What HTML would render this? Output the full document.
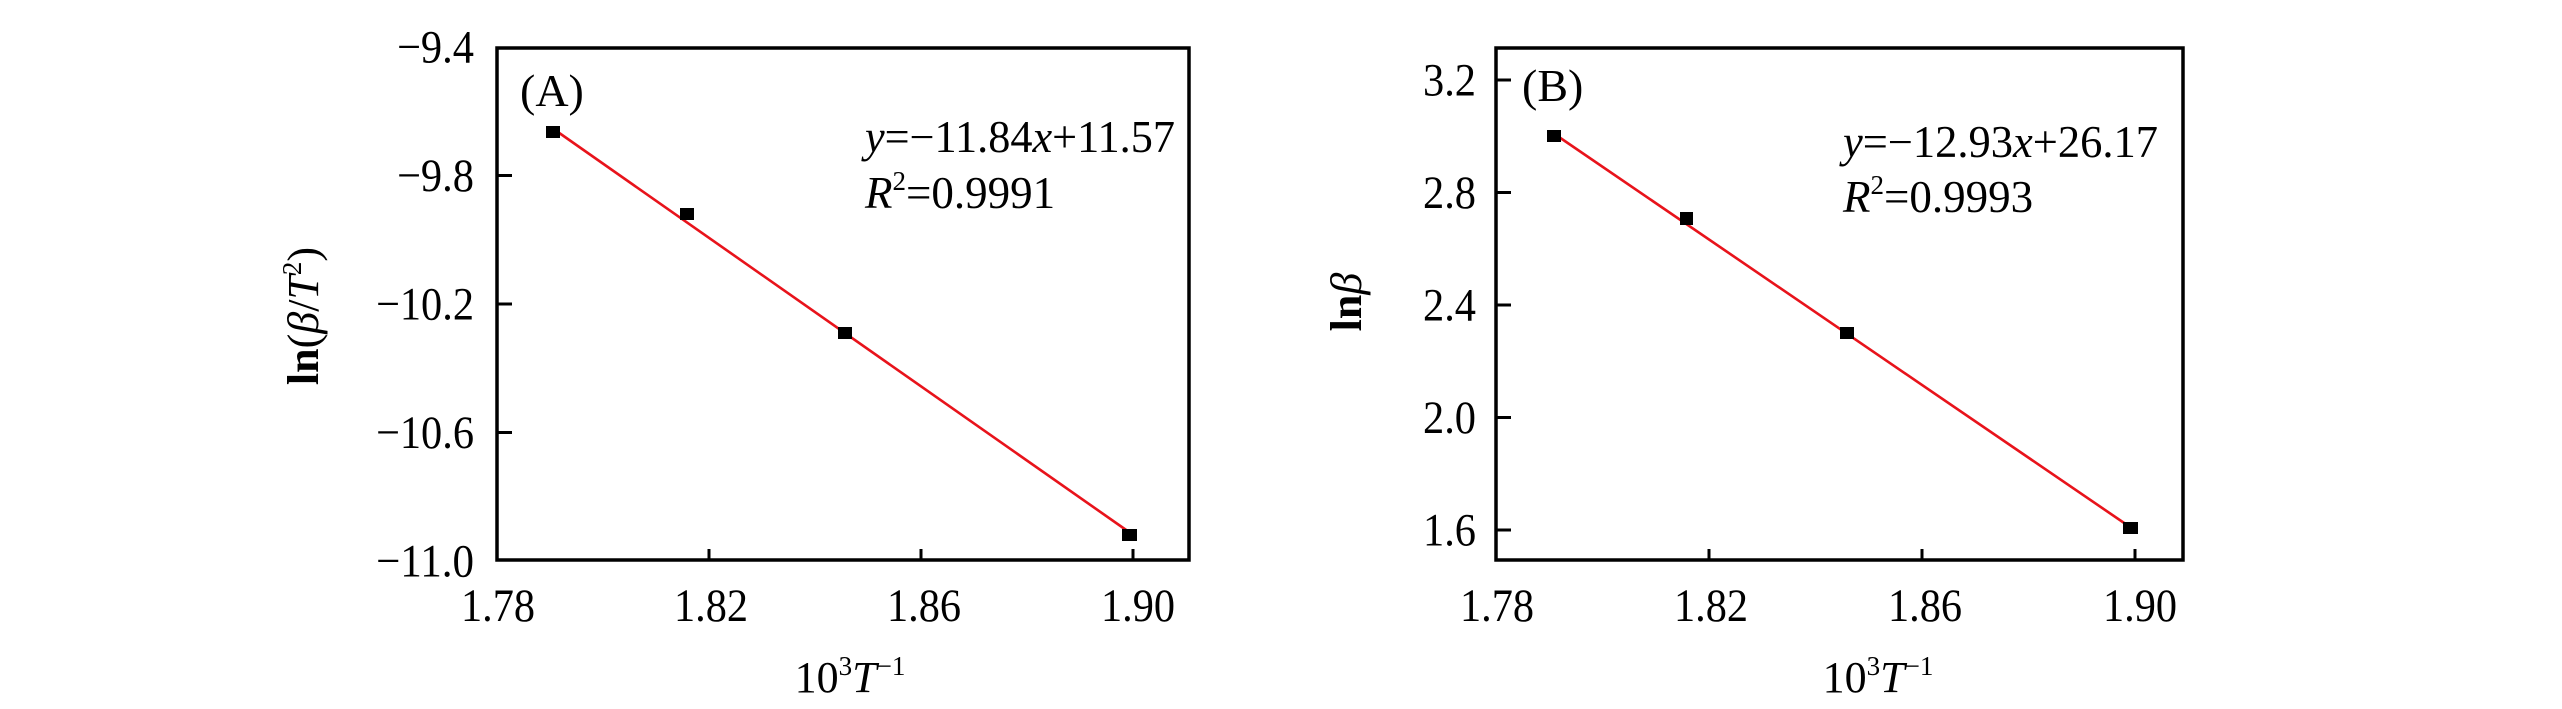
<!DOCTYPE html>
<html>
<head>
<meta charset="utf-8">
<style>
html,body{margin:0;padding:0;background:#fff;}
svg{display:block;}
text{font-family:"Liberation Serif","DejaVu Serif",serif;fill:#000;}
</style>
</head>
<body>
<svg width="2562" height="709" viewBox="0 0 2562 709" xmlns="http://www.w3.org/2000/svg">
<rect width="2562" height="709" fill="#fff"/>

<!-- ================= Panel A ================= -->
<g>
  <rect x="497" y="48" width="692" height="512" fill="none" stroke="#000" stroke-width="3.5"/>
  <g stroke="#000" stroke-width="3">
    <line x1="497" y1="175.5" x2="512" y2="175.5"/>
    <line x1="497" y1="304" x2="512" y2="304"/>
    <line x1="497" y1="432.5" x2="512" y2="432.5"/>
    <line x1="709" y1="560" x2="709" y2="549"/>
    <line x1="921" y1="560" x2="921" y2="549"/>
    <line x1="1133" y1="560" x2="1133" y2="549"/>
  </g>
  <g font-size="47" text-anchor="end">
    <text x="474" y="62.5" textLength="77" lengthAdjust="spacingAndGlyphs">−9.4</text>
    <text x="474" y="191" textLength="77" lengthAdjust="spacingAndGlyphs">−9.8</text>
    <text x="474" y="319.5" textLength="98" lengthAdjust="spacingAndGlyphs">−10.2</text>
    <text x="474" y="448" textLength="98" lengthAdjust="spacingAndGlyphs">−10.6</text>
    <text x="474" y="576.5" textLength="98" lengthAdjust="spacingAndGlyphs">−11.0</text>
  </g>
  <g font-size="47" text-anchor="middle">
    <text x="498" y="621" textLength="74" lengthAdjust="spacingAndGlyphs">1.78</text>
    <text x="711" y="621" textLength="74" lengthAdjust="spacingAndGlyphs">1.82</text>
    <text x="924" y="621" textLength="74" lengthAdjust="spacingAndGlyphs">1.86</text>
    <text x="1138" y="621" textLength="74" lengthAdjust="spacingAndGlyphs">1.90</text>
  </g>
  <text x="850" y="692" font-size="44" text-anchor="middle">10<tspan font-size="27" dy="-17">3</tspan><tspan font-style="italic" dy="17">T</tspan><tspan font-size="27" dy="-17">−1</tspan></text>
  <text transform="translate(318,316) rotate(-90)" font-size="44" text-anchor="middle"><tspan font-weight="bold">ln</tspan>(<tspan font-style="italic">β</tspan>/<tspan font-style="italic">T</tspan><tspan font-size="27" dy="-17">2</tspan><tspan dy="17">)</tspan></text>
  <text x="520" y="106" font-size="46">(A)</text>
  <text x="865" y="152" font-size="45" textLength="310" lengthAdjust="spacingAndGlyphs"><tspan font-style="italic">y</tspan>=−11.84<tspan font-style="italic">x</tspan>+11.57</text>
  <text x="865" y="208" font-size="45"><tspan font-style="italic">R</tspan><tspan font-size="27" dy="-18">2</tspan><tspan dy="18">=0.9991</tspan></text>
  <line x1="555" y1="130" x2="1129" y2="532" stroke="#e8131b" stroke-width="2.6"/>
  <g fill="#000">
    <rect x="546" y="126" width="14" height="12"/>
    <rect x="680" y="208" width="14" height="12"/>
    <rect x="838" y="327" width="14" height="12"/>
    <rect x="1122" y="529" width="15" height="12"/>
  </g>
</g>

<!-- ================= Panel B ================= -->
<g>
  <rect x="1496" y="48" width="687" height="512" fill="none" stroke="#000" stroke-width="3.5"/>
  <g stroke="#000" stroke-width="3">
    <line x1="1496" y1="80" x2="1511" y2="80"/>
    <line x1="1496" y1="192.5" x2="1511" y2="192.5"/>
    <line x1="1496" y1="305" x2="1511" y2="305"/>
    <line x1="1496" y1="417.5" x2="1511" y2="417.5"/>
    <line x1="1496" y1="530" x2="1511" y2="530"/>
    <line x1="1709" y1="560" x2="1709" y2="549"/>
    <line x1="1922" y1="560" x2="1922" y2="549"/>
    <line x1="2135" y1="560" x2="2135" y2="549"/>
  </g>
  <g font-size="47" text-anchor="end">
    <text x="1476" y="95.5" textLength="53" lengthAdjust="spacingAndGlyphs">3.2</text>
    <text x="1476" y="208" textLength="53" lengthAdjust="spacingAndGlyphs">2.8</text>
    <text x="1476" y="320.5" textLength="53" lengthAdjust="spacingAndGlyphs">2.4</text>
    <text x="1476" y="433" textLength="53" lengthAdjust="spacingAndGlyphs">2.0</text>
    <text x="1476" y="545.5" textLength="53" lengthAdjust="spacingAndGlyphs">1.6</text>
  </g>
  <g font-size="47" text-anchor="middle">
    <text x="1497" y="621" textLength="74" lengthAdjust="spacingAndGlyphs">1.78</text>
    <text x="1711" y="621" textLength="74" lengthAdjust="spacingAndGlyphs">1.82</text>
    <text x="1925" y="621" textLength="74" lengthAdjust="spacingAndGlyphs">1.86</text>
    <text x="2140" y="621" textLength="74" lengthAdjust="spacingAndGlyphs">1.90</text>
  </g>
  <text x="1878" y="692" font-size="44" text-anchor="middle">10<tspan font-size="27" dy="-17">3</tspan><tspan font-style="italic" dy="17">T</tspan><tspan font-size="27" dy="-17">−1</tspan></text>
  <text transform="translate(1361,302) rotate(-90)" font-size="44" text-anchor="middle"><tspan font-weight="bold">ln</tspan><tspan font-style="italic">β</tspan></text>
  <text x="1522" y="101" font-size="46">(B)</text>
  <text x="1843" y="157" font-size="45" textLength="315" lengthAdjust="spacingAndGlyphs"><tspan font-style="italic">y</tspan>=−12.93<tspan font-style="italic">x</tspan>+26.17</text>
  <text x="1843" y="212" font-size="45"><tspan font-style="italic">R</tspan><tspan font-size="27" dy="-18">2</tspan><tspan dy="18">=0.9993</tspan></text>
  <line x1="1556" y1="135" x2="2130" y2="527" stroke="#e8131b" stroke-width="2.6"/>
  <g fill="#000">
    <rect x="1547" y="130" width="14" height="12"/>
    <rect x="1680" y="212" width="13" height="13"/>
    <rect x="1840" y="327" width="14" height="12"/>
    <rect x="2123" y="522" width="15" height="12"/>
  </g>
</g>
</svg>
</body>
</html>
